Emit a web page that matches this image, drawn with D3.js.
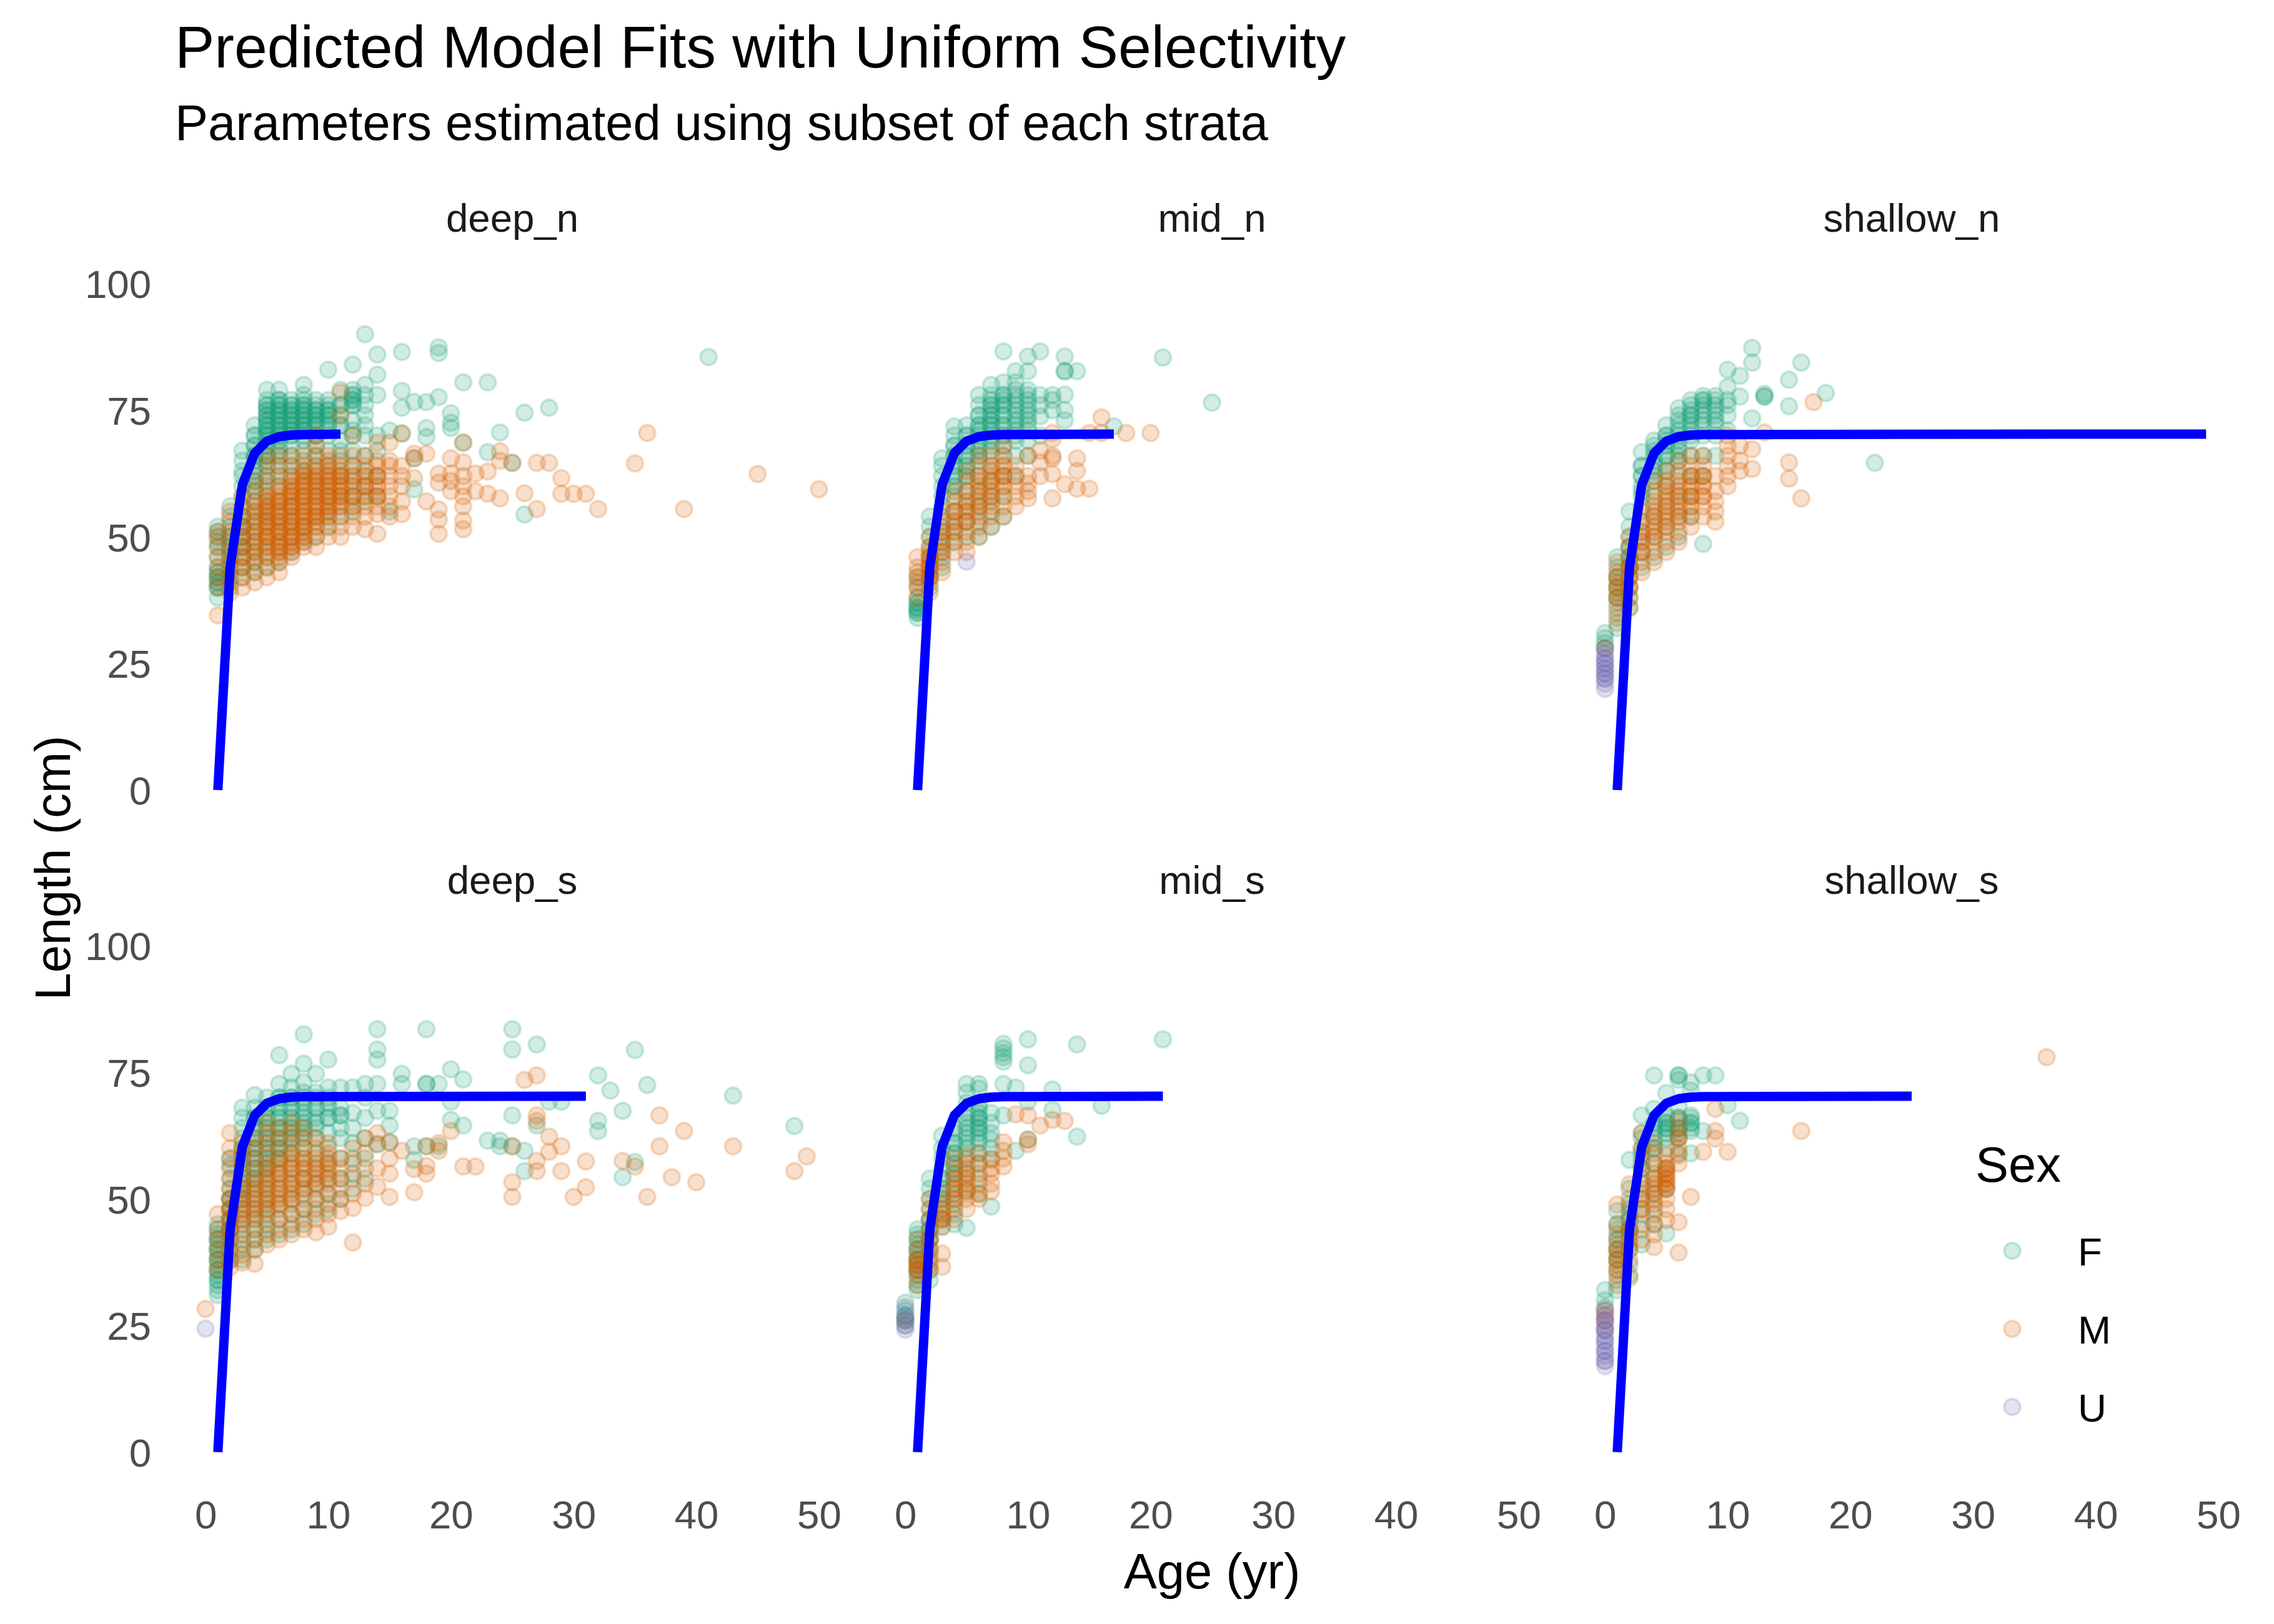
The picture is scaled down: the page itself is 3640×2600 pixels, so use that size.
<!DOCTYPE html>
<html><head><meta charset="utf-8">
<script src="https://cdn.jsdelivr.net/npm/d3@7"></script>
<style>body{margin:0;background:#fff}</style>
</head><body>
<svg id="chart" width="3640" height="2600"></svg>
<script>
const panelNames = ["deep_n","mid_n","shallow_n","deep_s","mid_s","shallow_s"];
const sexLevels = ["F","M","U"];
const sexColors = ["#1B9E77","#D95F02","#7570B3"];
const xTickValues = [0,10,20,30,40,50];
const yTickValues = [0,25,50,75,100];
const xDomain = [0,50];
const yDomain = [0,100];
const fitAges = [1,2,3,4,5,6,7,8];
const fitLengths = [0,44,60.3,66.5,68.9,69.8,70.1,70.2];
const fitPlateau = 70.3;
const fitEndAge = [11,17,49,31,21,25];

// ---- deep_n ----
const deepN_F = [
[1,[38,40,41,42,43,44,46,48,49,50,51,52]],
[2,[40,42,44,46,48,50,52,54,56]],
[3,[42,44,46,48,50,52,54,56,58,60,62,63,65,67]],
[4,[43,45,47,49,51,53,55,57,59,61,63,65,66,68,70,72]],
[5,[44,47,50,53,55,57,59,61,62,64,65,66,68,70,71,72,73,74,75,76,77,79]],
[6,[45,48,51,54,57,60,62,64,66,67,68,69,70,71,72,73,74,75,76,77,79]],
[7,[47,50,53,56,59,62,64,66,68,70,71,72,73,74,75,76,77]],
[8,[49,52,55,58,61,63,65,67,69,70,71,72,73,74,75,76,78,80]],
[9,[50,54,58,61,64,66,68,70,72,73,74,75,77]],
[10,[52,55,58,61,64,67,70,72,74,75,77,83]],
[11,[54,58,62,65,67,69,72,76,79]],
[12,[55,58,61,64,67,70,71,73,76,77,78,79,84]],
[13,[57,60,63,66,70,72,74,76,78,80,90]],
[14,[58,62,67,70,78,82,86]],
[15,[55,71]],
[16,[70.4,75.5,78.8,86.5]],
[17,[59.4,65.5,76.6]],
[18,[69.7,71.5,76.6]],
[19,[77.6,86.3,87.4]],
[20,[71.5,72.5,74.4]],
[21,[68.6,80.5]],
[23,[66.7,80.5]],
[24,[70.6]],
[25,[64.6]],
[26,[54.4,74.5]],
[28,[75.5]],
[41,[85.5]]
];
const deepN_F2 = [
[1,[40,41,42,43]],
[2,[46,48,50]],
[3,[48,50,52,54]],
[4,[60,62,64,66,68,70]],
[5,[66,68,69,70,71,72,73,74,75,76]],
[6,[70,71,72,73,74,75,76,77]],
[7,[70,71,72,73,74,75,76]],
[8,[71,72,73,74,75,76,77]],
[9,[70,72,73,74,75,76]],
[10,[72,73,74,75,76]],
[11,[72,74,76]],
[12,[76,77,78]]
];
const deepN_M = [
[1,[34.5,40,42,44,46,48,50,51]],
[2,[39,41,43,45,47,49,51,53,55]],
[3,[40,42,44,46,48,50,52,54,56,58]],
[4,[41,43,45,47,49,51,53,55,57,59,61]],
[5,[42,44,46,48,49,50,51,52,53,54,55,56,57,58,60,62,64,66]],
[6,[43,45,46,47,48,49,50,51,52,53,54,55,56,57,58,60,62,64,66]],
[7,[46,47,48,49,50,51,52,53,54,55,56,57,58,59,60,61,62,64,66]],
[8,[48,49,50,51,52,53,54,55,56,57,58,59,60,61,62,63,64,66]],
[9,[48,50,52,53,54,55,56,57,58,59,60,61,62,63,64,66,68,70]],
[10,[50,52,54,55,56,57,58,59,60,61,62,63,64,65,66]],
[11,[50,52,54,56,57,58,59,60,61,62,63,64,66,74,78.5]],
[12,[52,54,56,58,60,62,64,66,70]],
[13,[51.5,54,56,58,60,62,64,66]],
[14,[50.6,54.5,56,58,60,62,64,65,68.6]],
[15,[54,56,58,60,62,64,65,68.6]],
[16,[54.5,57,60,62,64,70.4]],
[17,[61.6,65.5,66.4]],
[18,[57,66.4]],
[19,[50.6,53.4,55.4,60.7,62.5]],
[20,[59,61,62.5,65.5]],
[21,[51.5,53.2,56,58,60,62,64.7,68.6]],
[22,[59,62.5]],
[23,[58.5,62.9]],
[24,[57.6,65,66.9]],
[25,[64.6]],
[26,[58.6]],
[27,[55.5,64.6]],
[28,[64.6]],
[29,[58.5,61.6]],
[30,[58.5]],
[31,[58.5]],
[32,[55.5]],
[35,[64.5]],
[36,[70.5]],
[39,[55.5]],
[45,[62.4]],
[50,[59.4]]
];
const deepN_M2 = [
[3,[44,46,48,50,52]],
[4,[46,48,50,52,54,56]],
[5,[46,48,50,52,54,56,58]],
[6,[47,49,51,53,55,57,59]],
[7,[48,50,52,54,56,58,60]],
[8,[50,52,54,56,58,60,62]],
[9,[52,54,56,58,60,62]],
[10,[54,56,58,60,62]],
[11,[56,58,60,62]],
[12,[56,58,60,62]],
[13,[58,60,62]],
[14,[58,60,62]]
];
const deepN_U = [];

// ---- mid_n ----
const midN_F = [
[1,[34,35,35.5,36,37,38,40,42]],
[2,[40,42,44,46,48,50,52,54]],
[3,[44,46,48,50,52,54,56,58,60,62,64,65.5]],
[4,[49,52,55,58,60,62,64,66,68,70,71.8]],
[5,[50,53,56,59,62,64,66,68,70,72]],
[6,[50,53,56,59,62,65,67,69,71,72,74,76,78]],
[7,[52,55,58,61,64,67,69,71,72,73,74,75,76,77,78,80]],
[8,[54,58,62,66,68,70,72,74,76,77,78,80.5,86.6]],
[9,[62,66,69,71,73,75,77,79,80.5,82.7]],
[10,[66,69,71,73,75,77,79,82.7,85.6]],
[11,[70,73.8,76,78,86.6]],
[12,[75,77,78]],
[13,[73,75,78.1,82.7,82.7,85.6]],
[14,[82.7]],
[17,[71.8]],
[21,[85.4]],
[25,[76.5]]
];
const midN_F2 = [
[1,[35,36,37]],
[4,[60,62,64,66,68]],
[5,[62,64,66,68,70]],
[6,[66,68,70,72,74]],
[7,[68,70,72,74,76]],
[8,[70,72,74,76,78]],
[9,[70,72,74,76,78]],
[10,[72,74,76,78]]
];
const midN_M = [
[1,[38,40,41,42,43,44,46]],
[2,[39,41,42,43,44,45,46,47,48,50]],
[3,[43,45,47,49,51,53,55]],
[4,[47,49,51,53,55,57,59]],
[5,[47,49,51,53,55,57,59,61,63]],
[6,[50,52,54,56,58,60,62,64,66]],
[7,[52,54,56,58,60,62,64,66]],
[8,[54,56,58,60,62,64,66,68]],
[9,[56,58,60,62,64]],
[10,[57.6,59,60.5,62,66]],
[11,[62,64.7,67]],
[12,[57.6,62.4,65.5,66,69.3,70.5]],
[13,[60.4]],
[14,[59.5,63,65.5]],
[15,[59.5,70.5]],
[16,[70.5,73.6]],
[18,[70.5]],
[20,[70.5]]
];
const midN_M2 = [
[2,[42,44,46]],
[3,[47,49,51]],
[4,[51,53,55]],
[5,[53,55,57]],
[6,[55,57,59,61]],
[7,[57,59,61,63]],
[8,[60,62,64]]
];
const midN_U = [[5,[45.1]]];

// ---- shallow_n ----
const shallowN_F = [
[0,[28,29,30,31]],
[1,[32,34,36,38,40,42,44,46]],
[2,[36,38,40,42,44,46,48,50,52,55]],
[3,[44,47,50,53,56,59,62,64,66.7]],
[4,[46,50,54,58,61,63,65,67,69]],
[5,[48,52,56,60,63,66,68,69,70,72]],
[6,[50,54,58,62,65,67,69,71,73,75.4]],
[7,[54,58,62,66,69,71,73,74,75,77]],
[8,[48.6,62,66,70,73,75,77,77.8]],
[9,[66,70,73,75,77.8]],
[10,[71,74,76,77,79.6,83]],
[11,[77.7,81.8]],
[12,[73.4,84.4,87.3]],
[13,[77.7,77.7,78.2]],
[15,[75.8,81]],
[16,[84.4]],
[18,[78.4]],
[22,[64.6]]
];
const shallowN_F2 = [
[1,[38,40,42]],
[2,[44,46,48]],
[3,[58,60,62,64]],
[4,[62,64,66,68]],
[5,[64,66,68,70]],
[6,[66,68,70,72,74]],
[7,[70,72,74,76]],
[8,[72,74,76,77]],
[9,[72,74,76,77]]
];
const shallowN_M = [
[0,[28]],
[1,[33,35,37,39,41,43,45]],
[2,[36,38,40,42,44,46,48,50]],
[3,[43,45,47,49,51,53,55]],
[4,[45,47,49,51,53,55,57,59,61]],
[5,[47,49,51,53,55,57,59,61,63]],
[6,[49,51,53,55,57,59,61,63,65]],
[7,[52,54,56,58,60,62,64,66]],
[8,[54,56,58,60,62,64,66]],
[9,[53,55,57,59,62]],
[10,[60,62,64,66,68,70]],
[11,[63,65,68]],
[12,[63.4,67.3]],
[13,[70.6]],
[15,[61.5,64.7]],
[16,[57.6]],
[17,[76.6]]
];
const shallowN_M2 = [
[1,[38,40,42]],
[2,[40,42,44]],
[3,[47,49,51]],
[4,[50,52,54,56]],
[5,[52,54,56,58,60]],
[6,[54,56,58,60]],
[7,[56,58,60,62]],
[8,[58,60,62]]
];
const shallowN_U = [[0,[20,21,22,23,24,25,26,27,28]]];
const shallowN_U2 = [[0,[22,23,24,25,26]]];

// ---- deep_s ----
const deepS_F = [
[1,[31,32,33,34,35,36,37,38,39,40,41,42,43,44,45]],
[2,[38,40,42,44,46,48,50,52,54,56.6,58]],
[3,[38,40,42,44,46,48,50,52,54,56,58,60,62,64,66,68]],
[4,[40,42,44,46,48,50,52,54,56,58,60,62,64,66,68,70.5]],
[5,[42,44,46,48,50,52,54,56,58,60,62,64,66,68,70]],
[6,[43,46,49,52,55,58,60,62,64,66,68,70,72.7,78.4]],
[7,[44,47,50,53,56,59,62,64,66,68,70,72,74.7]],
[8,[45,48,51,54,57,60,63,65,67,69,71,73,76.7,82.5]],
[9,[47,50,53,56,59,62,65,68,71,74.7]],
[10,[48,51,54,57,60,63,66,69,72,77.5]],
[11,[50,54,58,62,64,66.5,66.5,68,72]],
[12,[52,55,58,61,64,67,72]],
[13,[54,58,62,66,70,72.7]],
[14,[60.8,67.4,72.7,77.5,79.5,83.5]],
[15,[61.2,64.5,67.4]],
[16,[72.7,74.7]],
[17,[57.7,60.4]],
[18,[60.4,72.7,72.7,83.5]],
[19,[60.4,72.7]],
[20,[65.6,69.2,75.6]],
[21,[64.5,73.6]],
[23,[61.5]],
[24,[60.4,61.5]],
[25,[60.4,66.5,79.5,83.5]],
[26,[55.5,59.5]],
[27,[64.5,80.5]],
[28,[69.2]],
[29,[69.2]],
[32,[63.4,65.4,74.4]],
[33,[71.4]],
[34,[54.3,67.4]],
[35,[57.3,79.4]],
[36,[72.5]],
[43,[70.4]],
[48,[64.4]]
];
const deepS_F2 = [
[1,[34,36,38,40,42]],
[2,[44,46,48,50]],
[3,[50,52,54,56,58,60]],
[4,[54,56,58,60,62,64,66]],
[5,[56,58,60,62,64,66,68]],
[6,[58,60,62,64,66,68,70]],
[7,[60,62,64,66,68,70]],
[8,[62,64,66,68,70]],
[9,[64,66,68,70]],
[10,[66,68,70]]
];
const deepS_M = [
[0,[28.3]],
[1,[36,38,40,42,44,47]],
[2,[36.5,38,40,42,44,46,48,50,52,54,56,58,60,63]],
[3,[37.4,39,41,43,45,47,49,51,53,55,57,59,61]],
[4,[37.2,40,42,44,46,48,50,52,54,56,58,60,62]],
[5,[41,43,45,47,49,51,53,55,57,59,61,63,65]],
[6,[42,44,46,48,50,52,54,56,58,60,62,64]],
[7,[43,45,47,49,51,53,55,57,59,61,63,65]],
[8,[44,46,48,50,52,54,56,58,60,62,64]],
[9,[43.4,46,48,50,52,54,56,58,60,62]],
[10,[44.5,47,49,51,53,55,57,59,61]],
[11,[47.6,50,52,54,56,58]],
[12,[41.4,48.2,51,54,57,60]],
[13,[50.2,53,56,59,62]],
[14,[52.4,56,60.8,63]],
[15,[50.4,55,58,61.2]],
[16,[59.5]],
[17,[51.3,55.9]],
[18,[55,56.5,60.4]],
[19,[59.5,61]],
[20,[63.4]],
[21,[56.4]],
[22,[56.4]],
[25,[50.4,53.3,60.4]],
[26,[73.5]],
[27,[55.5,57.5,65.4,66.5,74.4]],
[28,[59.3,62.3]],
[29,[55.5,60.4]],
[30,[50.4]],
[31,[52.3,57.4]],
[34,[57.5]],
[35,[56.4]],
[36,[50.4]],
[37,[60.4,66.5]],
[38,[54.3]],
[39,[63.4]],
[40,[53.3]],
[43,[60.4]],
[48,[55.5]],
[49,[58.4]]
];
const deepS_M2 = [
[2,[44,46,48,50]],
[3,[46,48,50,52]],
[4,[47,49,51,53]],
[5,[48,50,52,54,56]],
[6,[49,51,53,55,57]],
[7,[50,52,54,56,58]],
[8,[52,54,56,58]],
[9,[53,55,57]],
[10,[54,56,58]]
];
const deepS_U = [[0,[24.4]]];

// ---- mid_s ----
const midS_F = [
[0,[25,26.5,28,29.5]],
[1,[32,33,34,35,36,37,38,39,40,41,42,43,44]],
[2,[34,36,38,40,42,44,46,48,50,52,54]],
[3,[44.5,46,48,50,52,54,56,58,60,62.5]],
[4,[45,47,49,51,53,55,57,59,61,63,64]],
[5,[44.3,51.5,55,58,61,63,65,67,69,71,72.7]],
[6,[51,54,57,59,61,63,64,65,66,67,68.7,71.8,72.7]],
[7,[48.5,58,60,61.7,63,65,67]],
[8,[66.5,72.7,77.1,78,78.8,79.7,80.6]],
[9,[59.5,72]],
[10,[61.7,69.2,76.4,81.5]],
[12,[67.6,71.6]],
[14,[62.3,80.5]],
[16,[68.4]],
[21,[81.5]]
];
const midS_F2 = [
[0,[26,27]],
[1,[36,38,40]],
[2,[42,44,46]],
[3,[50,52,54]],
[4,[55,57,59,61]],
[5,[60,62,64,66]],
[6,[62,64,66,68]]
];
const midS_M = [
[0,[26]],
[1,[33,35,36,37,38,40,42]],
[2,[36,37,39,42,44,45.8,48,50]],
[3,[36.6,39.2,44.5,46,47,49,51]],
[4,[46,48,50,52,54,56,58]],
[5,[48,50,51.5,53,55,57,58.6]],
[6,[50,51,53,55,57,59]],
[7,[51.5,53,55,56,57.7]],
[8,[56.4,58,59.5,61.2]],
[9,[66.7]],
[10,[60.8,61.7,66.5]],
[11,[64.5]],
[12,[65.6]],
[13,[65.4]]
];
const midS_M2 = [
[1,[36,37,38]],
[2,[40,42]],
[3,[46,48]],
[4,[50,52,54]],
[5,[52,54,56]]
];
const midS_U = [[0,[24.2,25,26,27,28.6]]];

// ---- shallow_s ----
const shallowS_F = [
[0,[28.6,30,32]],
[1,[32,34,36,38,40,42,44,45,47.6]],
[2,[34.4,37,40,43,46,49,52,57.7]],
[3,[41,44,47,50,53,56,59,62,63,66.5]],
[4,[45,48,51,54,57,60,63,65,67.8,74.4]],
[5,[43.2,52,56,60,62,63.9,65,66.5,70.9]],
[6,[59,62,63.9,66,68.3,73.5,74.4,74.4]],
[7,[59,63.4,65,66.5,71.4,73]],
[8,[63.4,74.4]],
[9,[74.4]],
[10,[68.5]],
[11,[65.4]]
];
const shallowS_F2 = [
[1,[38,40,42]],
[2,[44,46,48]],
[3,[56,58,60]],
[4,[60,62,64]],
[5,[63,64,65,66]],
[6,[63,64,66]],
[7,[64,65,66]]
];
const shallowS_M = [
[0,[24.2,26,27,28]],
[1,[33,35,37,39,41,43,45,48.9]],
[2,[35,38,41,44,47,50,52.9]],
[3,[42,45,48,51,54,57,60,63]],
[4,[40.5,43,45,47,49,51,53,55,57,59,61]],
[5,[45.8,48,50,52,53,54,55,56,57,58.6]],
[6,[39.4,45.4,57,58.6,62.1,64,65.6]],
[7,[50.4]],
[8,[59.3]],
[9,[61.9,63.4,67.8]],
[10,[59.3]],
[16,[63.4]],
[36,[78]]
];
const shallowS_M2 = [
[1,[36,38,40]],
[2,[40,42,44]],
[3,[48,50,52]],
[4,[50,52,54]],
[5,[52,53,54,55,56]],
[6,[60,62]]
];
const shallowS_U = [[0,[17,18,19,20,21,22,23,24.2,25,26,27,28]]];
const shallowS_U2 = [[0,[18,20,22,24,26]]];

// table built from the arrays above (F, M, U per panel)
const panelData = [
  [deepN_F.concat(deepN_F2), deepN_M.concat(deepN_M2), deepN_U],
  [midN_F.concat(midN_F2), midN_M.concat(midN_M2), midN_U],
  [shallowN_F.concat(shallowN_F2), shallowN_M.concat(shallowN_M2), shallowN_U.concat(shallowN_U2)],
  [deepS_F.concat(deepS_F2), deepS_M.concat(deepS_M2), deepS_U],
  [midS_F.concat(midS_F2), midS_M.concat(midS_M2), midS_U],
  [shallowS_F.concat(shallowS_F2), shallowS_M.concat(shallowS_M2), shallowS_U.concat(shallowS_U2)]
];

// ---------- layout ----------
const W = 3640, H = 2600;
const FONT = "'Liberation Sans', Arial, Helvetica, sans-serif";
const panelW = 1080, panelH = 892, gapX = 40;
const panelLeft0 = 280;
const panelTops = [413.5, 1473.5];
const svg = d3.select("#chart");
svg.append("rect").attr("width", W).attr("height", H).attr("fill", "#fff");

const xPad = (xDomain[1]-xDomain[0])*0.05;
const yPad = (yDomain[1]-yDomain[0])*0.05;

const color = d3.scaleOrdinal().domain(sexLevels).range(sexColors);

// title
svg.append("text").attr("x", 280).attr("y", 108)
  .attr("font-family", FONT).attr("font-size", 95).attr("fill", "#000")
  .text("Predicted Model Fits with Uniform Selectivity");
svg.append("text").attr("x", 280).attr("y", 224)
  .attr("font-family", FONT).attr("font-size", 79.5).attr("fill", "#000")
  .text("Parameters estimated using subset of each strata");

panelNames.forEach((name, i) => {
  const col = i % 3, row = Math.floor(i / 3);
  const left = panelLeft0 + col * (panelW + gapX);
  const top = panelTops[row];
  const x = d3.scaleLinear().domain([xDomain[0]-xPad, xDomain[1]+xPad]).range([left, left + panelW]);
  const y = d3.scaleLinear().domain([yDomain[0]-yPad, yDomain[1]+yPad]).range([top + panelH, top]);

  // strip label
  svg.append("text").attr("x", left + panelW/2).attr("y", top - 42.5)
    .attr("text-anchor", "middle").attr("font-family", FONT).attr("font-size", 63.6)
    .attr("fill", "#1A1A1A").text(name);

  // y axis labels (left column only)
  if (col === 0) {
    const ya = d3.axisLeft(y).tickValues(yTickValues).tickSize(0).tickPadding(38);
    const g = svg.append("g").attr("transform", `translate(${left},0)`).call(ya);
    g.select(".domain").remove();
    g.selectAll("text").attr("font-family", FONT).attr("font-size", 63.6)
      .attr("fill", "#4D4D4D").attr("dy", "0.355em");
  }
  // x axis labels (bottom row only)
  if (row === 1) {
    const xa = d3.axisBottom(x).tickValues(xTickValues).tickSize(0).tickPadding(0);
    const g = svg.append("g").attr("transform", `translate(0,${top + panelH})`).call(xa);
    g.select(".domain").remove();
    g.selectAll("text").attr("font-family", FONT).attr("font-size", 63.6)
      .attr("fill", "#4D4D4D").attr("dy", null).attr("y", 81.5);
  }

  // points
  const pts = [];
  panelData[i].forEach((series, s) => {
    series.forEach(([age, lens]) => lens.forEach(L => pts.push({age, L, sex: sexLevels[s]})));
  });
  svg.append("g").selectAll("circle").data(pts).join("circle")
    .attr("cx", d => x(d.age)).attr("cy", d => y(d.L)).attr("r", 13)
    .attr("fill", d => color(d.sex)).attr("fill-opacity", 0.2)
    .attr("stroke", d => color(d.sex)).attr("stroke-opacity", 0.2).attr("stroke-width", 4);

  // fitted curve
  const end = fitEndAge[i];
  const fit = fitAges.filter(a => a < end).map((a, k) => [a, fitLengths[k]]);
  fit.push([end, fitPlateau]);
  svg.append("path").datum(fit)
    .attr("d", d3.line().x(d => x(d[0])).y(d => y(d[1])))
    .attr("fill", "none").attr("stroke", "#0000FF").attr("stroke-width", 15)
    .attr("stroke-linejoin", "round");
});

// axis titles
svg.append("text").attr("x", 1940).attr("y", 2543).attr("text-anchor", "middle")
  .attr("font-family", FONT).attr("font-size", 79.5).attr("fill", "#000").text("Age (yr)");
svg.append("text").attr("transform", "translate(112,1389.5) rotate(-90)").attr("text-anchor", "middle")
  .attr("font-family", FONT).attr("font-size", 79.5).attr("fill", "#000").text("Length (cm)");

// legend
const lg = svg.append("g");
lg.append("text").attr("x", 3162).attr("y", 1892).attr("font-family", FONT)
  .attr("font-size", 79.5).attr("fill", "#000").text("Sex");
sexLevels.forEach((s, k) => {
  const cy = 2002.5 + k * 125;
  lg.append("circle").attr("cx", 3221).attr("cy", cy).attr("r", 13)
    .attr("fill", color(s)).attr("fill-opacity", 0.2)
    .attr("stroke", color(s)).attr("stroke-opacity", 0.2).attr("stroke-width", 4);
  lg.append("text").attr("x", 3326).attr("y", cy + 23).attr("font-family", FONT)
    .attr("font-size", 63.6).attr("fill", "#000").text(s);
});
</script>
</body></html>
